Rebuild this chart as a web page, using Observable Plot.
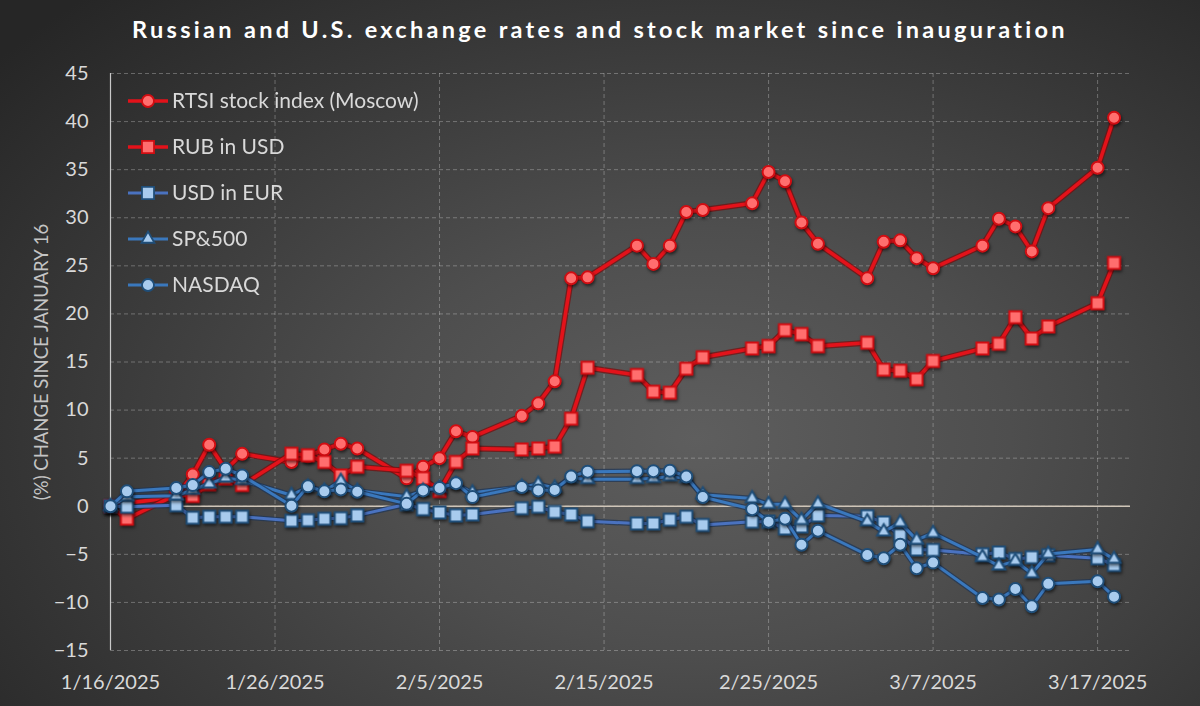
<!DOCTYPE html>
<html>
<head>
<meta charset="utf-8">
<script src="https://cdn.jsdelivr.net/npm/d3@7"></script>
<script src="https://cdn.jsdelivr.net/npm/@observablehq/plot@0.6"></script>
<style>
  html, body { margin: 0; padding: 0; background: #2a2a2a; }
  #wrap {
    position: relative; width: 1200px; height: 706px; overflow: hidden;
    background: radial-gradient(ellipse 75% 85% at 58% 62%, #5e5e5e 0%, #4e4e4e 35%, #383838 70%, #262626 100%);
    font-family: Lato, "Open Sans", sans-serif;
  }
  #title {
    position: absolute; left: 0; top: 15px; width: 1200px; text-align: center;
    color: #ffffff; font-weight: 700; font-size: 23.5px; letter-spacing: 3.3px;
    font-family: Lato, "Open Sans", sans-serif;
  }
  #chart { position: absolute; left: 0; top: 0; }
  #legend { position: absolute; left: 0; top: 0; pointer-events: none; }
  #chart g[aria-label="dot"] { filter: drop-shadow(1px 2px 1.5px rgba(0,0,0,0.55)); }
</style>
</head>
<body>
<div id="wrap">
  <div id="chart"></div>
  <div id="title">Russian and U.S. exchange rates and stock market since inauguration</div>
  <svg id="legend" width="1200" height="706"></svg>
</div>
<script>
// ---------- data ----------
const dates = [
  "2025-01-16","2025-01-17","2025-01-20","2025-01-21","2025-01-22","2025-01-23","2025-01-24",
  "2025-01-27","2025-01-28","2025-01-29","2025-01-30","2025-01-31",
  "2025-02-03","2025-02-04","2025-02-05","2025-02-06","2025-02-07",
  "2025-02-10","2025-02-11","2025-02-12","2025-02-13","2025-02-14",
  "2025-02-17","2025-02-18","2025-02-19","2025-02-20","2025-02-21",
  "2025-02-24","2025-02-25","2025-02-26","2025-02-27","2025-02-28",
  "2025-03-03","2025-03-04","2025-03-05","2025-03-06","2025-03-07",
  "2025-03-10","2025-03-11","2025-03-12","2025-03-13","2025-03-14",
  "2025-03-17","2025-03-18"
];
const rtsi = [0, 0.3, 1.0, 3.3, 6.4, 3.8, 5.45, 4.6, 5.2, 5.9, 6.5, 6.0,
  2.9, 4.1, 5.0, 7.8, 7.2,
  9.4, 10.7, 13.0, 23.7, 23.8,
  27.1, 25.2, 27.1, 30.6, 30.8,
  31.5, 34.75, 33.8, 29.5, 27.3,
  23.7, 27.5, 27.65, 25.8, 24.75,
  27.1, 29.9, 29.1, 26.5, 31.0,
  35.2, 40.4];
const rub = [0, -1.3, 1.2, 1.07, 2.3, 2.9, 2.2, 5.45, 5.3, 4.6, 3.2, 4.1,
  3.7, 2.9, 1.6, 4.6, 6.0,
  5.9, 6.0, 6.2, 9.1, 14.4,
  13.65, 11.9, 11.8, 14.3, 15.5,
  16.4, 16.65, 18.3, 17.9, 16.65,
  17.0, 14.2, 14.1, 13.2, 15.1,
  16.4, 16.9, 19.65, 17.45, 18.7,
  21.1, 25.3];
const usdEur = [0, -0.05, 0.1, -1.2, -1.1, -1.1, -1.1, -1.5, -1.45, -1.3, -1.25, -0.95,
  0.2, -0.3, -0.65, -0.95, -0.85,
  -0.2, -0.05, -0.6, -0.85, -1.55,
  -1.8, -1.8, -1.4, -1.1, -1.95,
  -1.6, -1.6, -2.3, -2.1, -0.95,
  -1.05, -1.7, -3.0, -4.5, -4.55,
  -5.0, -4.8, -5.5, -5.3, -5.1,
  -5.4, -6.1];
const sp500 = [0, 1.0, 1.1, 1.7, 2.35, 2.95, 2.7, 1.15, 2.0, 1.6, 2.6, 1.6,
  1.0, 1.6, 1.9, 2.3, 1.4,
  2.0, 2.3, 1.9, 2.9, 2.8,
  2.8, 2.9, 3.1, 2.9, 1.2,
  0.8, 0.2, 0.2, -1.45, 0.27,
  -1.6, -2.65, -1.7, -3.5, -2.8,
  -5.3, -6.2, -5.7, -7.0, -4.97,
  -4.5, -5.5];
const nasdaq = [0, 1.55, 1.9, 2.2, 3.55, 3.9, 3.2, 0.05, 2.07, 1.55, 1.75, 1.5,
  0.25, 1.65, 1.9, 2.4, 0.95,
  2.0, 1.65, 1.7, 3.1, 3.6,
  3.65, 3.65, 3.7, 3.1, 0.96,
  -0.3, -1.6, -1.3, -4.0, -2.55,
  -5.07, -5.4, -4.0, -6.45, -5.86,
  -9.55, -9.7, -8.6, -10.4, -8.07,
  -7.8, -9.4];
const seriesNames = ["RTSI stock index (Moscow)", "RUB in USD", "USD in EUR", "SP&500", "NASDAQ"];
const xTickLabels = ["2025-01-16","2025-01-26","2025-02-05","2025-02-15","2025-02-25","2025-03-07","2025-03-17"];
const xDomain = ["2025-01-16","2025-03-19"];
const yTicks = [-15,-10,-5,0,5,10,15,20,25,30,35,40,45];
const yLabel = "(%) CHANGE SINCE JANUARY 16";

// ---------- build ----------
const parse = d3.utcParse("%Y-%m-%d");
const fmt = d3.utcFormat("%-m/%-d/%Y");
const D = dates.map(parse);
const xTicks = xTickLabels.map(parse);
const mk = vals => vals.map((v, i) => ({date: D[i], value: v}));

const styles = [
  {data: mk(rtsi),   line: "#e3121a", under: "#7a0a0a", fill: "#ff6e6e", stroke: "#d10d12", symbol: "circle",   r: 6.0, w: 3.6},
  {data: mk(rub),    line: "#e3121a", under: "#7a0a0a", fill: "#ff6e6e", stroke: "#d10d12", symbol: "square",   r: 6.8, w: 3.6},
  {data: mk(usdEur), line: "#4a72c0", under: "#1d3557", fill: "#a8cbee", stroke: "#1f4e79", symbol: "square",   r: 6.8, w: 3.0},
  {data: mk(sp500),  line: "#3a78bd", under: "#1d3557", fill: "#a8cbee", stroke: "#1f4e79", symbol: "triangle", r: 4.8, w: 3.0},
  {data: mk(nasdaq), line: "#3a78bd", under: "#1d3557", fill: "#a8cbee", stroke: "#1f4e79", symbol: "circle",   r: 6.0, w: 3.0}
];

const seriesMarks = [];
for (const s of styles) {
  seriesMarks.push(Plot.line(s.data, {x: "date", y: "value", stroke: s.under, strokeWidth: s.w + 2.4, strokeOpacity: 0.7}));
  seriesMarks.push(Plot.line(s.data, {x: "date", y: "value", stroke: s.line, strokeWidth: s.w}));
  seriesMarks.push(Plot.dot(s.data, {x: "date", y: "value", symbol: s.symbol, r: s.r, fill: s.fill, stroke: s.stroke, strokeWidth: 2}));
}

const chart = Plot.plot({
  width: 1200, height: 706,
  marginLeft: 110, marginRight: 70, marginTop: 73, marginBottom: 56,
  style: {background: "transparent", color: "#d9d9d9", fontFamily: "Lato, 'Open Sans', sans-serif", fontSize: "19px", overflow: "visible"},
  x: {type: "utc", domain: xDomain.map(parse)},
  y: {domain: [-15, 45]},
  marks: [
    Plot.gridX(xTicks, {stroke: "#ffffff", strokeOpacity: 0.28, strokeDasharray: "4,3"}),
    Plot.gridY(yTicks, {stroke: "#ffffff", strokeOpacity: 0.28, strokeDasharray: "4,3"}),
    Plot.ruleY([0], {stroke: "#cfc5b8", strokeWidth: 1.6}),
    Plot.ruleX([D[0]], {stroke: "#c8c8c8", strokeWidth: 1.2}),
    Plot.axisY({ticks: yTicks, tickSize: 0, tickPadding: 22, label: null, fontSize: 20, fill: "#d9d9d9"}),
    Plot.axisX({ticks: xTicks, tickFormat: fmt, tickSize: 0, tickPadding: 24, label: null, fontSize: 20, fill: "#d9d9d9"}),
    Plot.text([yLabel], {frameAnchor: "left", rotate: -90, dx: -68, fontSize: 18.5, fill: "#c4c4c4", textAnchor: "middle"}),
    ...seriesMarks
  ]
});
document.getElementById("chart").appendChild(chart);

// ---------- legend ----------
const lg = d3.select("#legend");
const rowY = [101, 147, 193, 239, 285];
const sym = {circle: d3.symbolCircle, square: d3.symbolSquare, triangle: d3.symbolTriangle};
styles.forEach((s, i) => {
  const g = lg.append("g").attr("transform", `translate(0,${rowY[i]})`);
  g.append("line").attr("x1", 128).attr("x2", 168).attr("stroke", s.line).attr("stroke-width", s.w);
  g.append("path").attr("transform", "translate(148,0)")
    .attr("d", d3.symbol(sym[s.symbol], Math.PI * s.r * s.r)())
    .attr("fill", s.fill).attr("stroke", s.stroke).attr("stroke-width", 1.8);
  g.append("text").attr("x", 172).attr("y", 0).attr("dy", "0.35em")
    .attr("fill", "#d9d9d9").attr("font-size", 21)
    .attr("font-family", "Lato, 'Open Sans', sans-serif")
    .text(seriesNames[i]);
});
</script>
</body>
</html>
